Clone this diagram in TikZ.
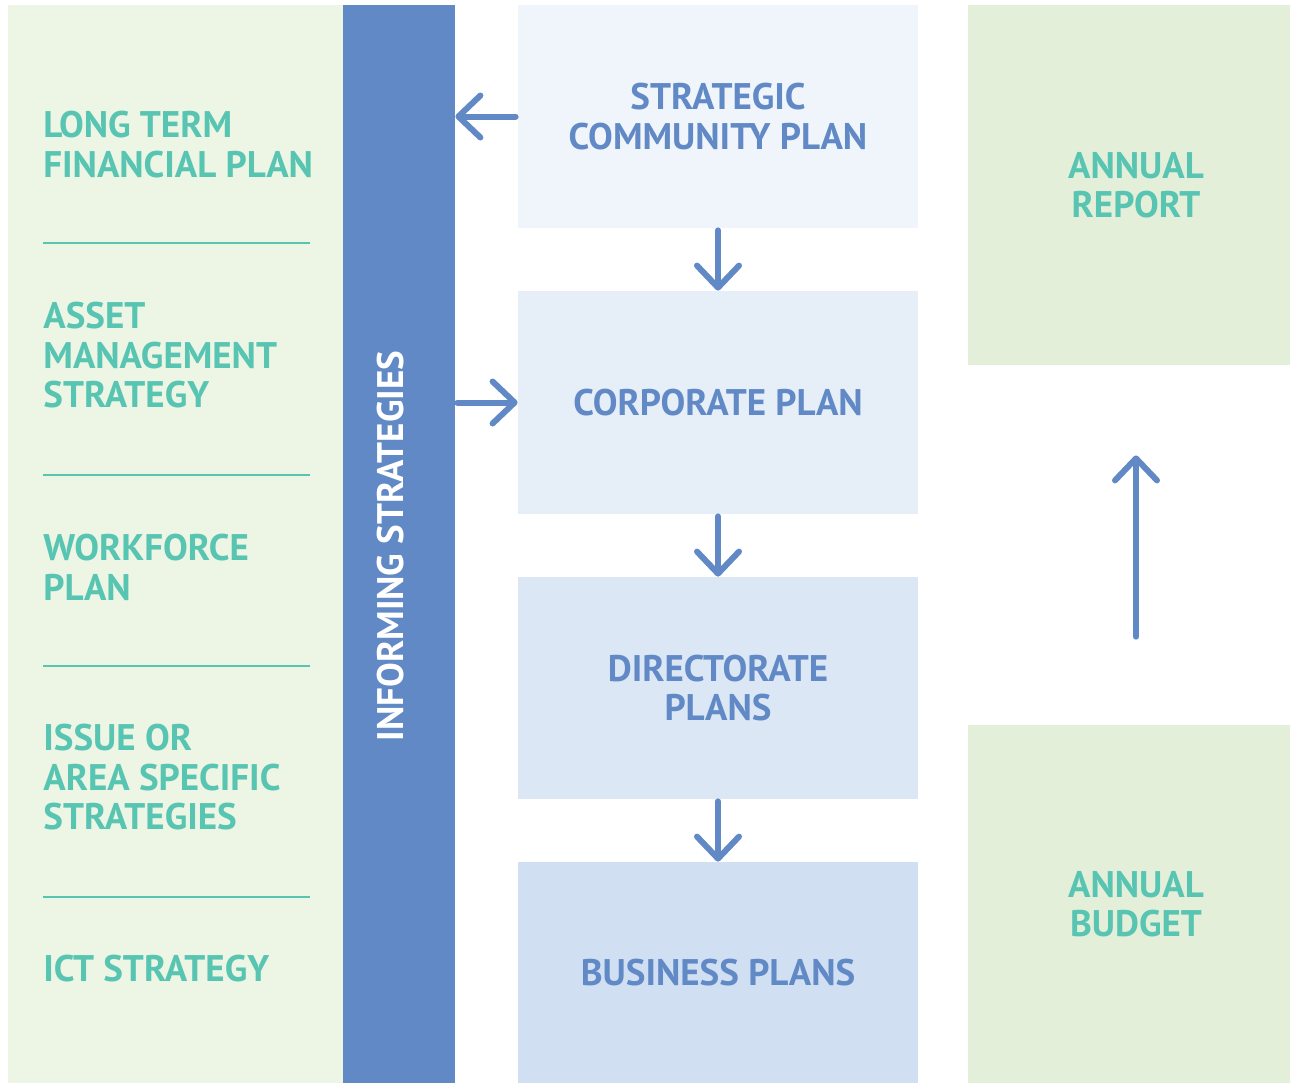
\documentclass[tikz,border=0pt]{standalone}
\usepackage{fontspec}
\setmainfont{PT Sans}
\usetikzlibrary{arrows.meta,positioning}
\definecolor{leftbg}{HTML}{EDF5E4}
\definecolor{rightbg}{HTML}{E4EFDA}
\definecolor{barblue}{HTML}{6189C6}
\definecolor{tealtext}{HTML}{58C4B2}
\definecolor{scpfill}{HTML}{F0F5FB}
\definecolor{corpfill}{HTML}{E6EEF8}
\definecolor{dirfill}{HTML}{DCE7F5}
\definecolor{busfill}{HTML}{D0E0F2}
\tikzset{
  labelfont/.style={font=\fontsize{18.5}{19.75}\selectfont\bfseries},
  lefttext/.style={labelfont, text=tealtext, align=left, anchor=west, inner sep=0pt},
  planbox/.style={labelfont, text=barblue, align=center, minimum width=200pt, inner sep=0pt},
  sidebox/.style={labelfont, text=tealtext, fill=rightbg, align=center, minimum width=168pt, inner sep=0pt},
  divider/.style={draw=tealtext, line width=1pt},
  flow/.style={draw=barblue, line width=3pt, line cap=round, -{Straight Barb[length=11pt,width=21pt,round]}}
}
\begin{document}
\begin{tikzpicture}[x=0.5pt,y=-0.5pt]
\useasboundingbox (0,0) rectangle (1290,1083);
\clip (0,0) rectangle (1290,1083);
% informing strategies
\fill[leftbg] (8,5) rectangle (343,1083);
\node[fill=barblue, minimum width=56pt, minimum height=539pt, inner sep=0pt] (bar) at (399,544) {};
\node[labelfont, text=white, rotate=90, inner sep=0pt] (inform) at (391,546) {INFORMING STRATEGIES};
\node[lefttext] (ltfp) at (43,144.5) {LONG TERM\\FINANCIAL PLAN};
\node[lefttext] (ams) at (43,355.5) {ASSET\\MANAGEMENT\\STRATEGY};
\node[lefttext] (wfp) at (43,567.5) {WORKFORCE\\PLAN};
\node[lefttext] (ias) at (43,777.5) {ISSUE OR\\AREA SPECIFIC\\STRATEGIES};
\node[lefttext] (ict) at (43,968.5) {ICT STRATEGY};
\foreach \y in {243,475,666,897}
  \draw[divider] (43,\y) -- (310,\y);
% planning chain
\node[planbox, fill=scpfill, minimum height=111.5pt] (scp) at (718,116.5) {STRATEGIC\\COMMUNITY PLAN};
\node[planbox, fill=corpfill, minimum height=111.5pt] (corp) at (718,402.5) {CORPORATE PLAN};
\node[planbox, fill=dirfill, minimum height=111pt] (dir) at (718,688) {DIRECTORATE\\PLANS};
\node[planbox, fill=busfill, minimum height=110.5pt] (bus) at (718,972.5) {BUSINESS PLANS};
% annual cycle
\node[sidebox, minimum height=180pt] (report) at (1136,185) {ANNUAL\\REPORT};
\node[sidebox, minimum height=179pt] (budget) at (1136,904) {ANNUAL\\BUDGET};
% arrows
\draw[flow, shorten <=1pt] (scp.west) -- (scp.west -| bar.east);
\draw[flow, shorten <=1pt] (corp.west -| bar.east) -- (corp.west);
\draw[flow, shorten <=1pt] (scp) -- (corp);
\draw[flow, shorten <=1pt] (corp) -- (dir);
\draw[flow, shorten <=1pt] (dir) -- (bus);
\draw[flow, shorten <=44pt, shorten >=45pt] (budget) -- (report);
\end{tikzpicture}
\end{document}
